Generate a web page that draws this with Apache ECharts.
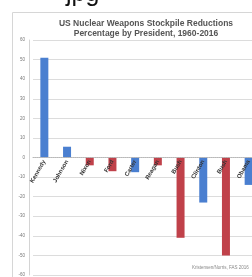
<!DOCTYPE html>
<html>
<head>
<meta charset="utf-8">
<script src="https://cdn.jsdelivr.net/npm/echarts@6/dist/echarts.min.js"></script>
<style>
  html, body { margin: 0; padding: 0; background: #fff; }
  #chart { width: 252px; height: 277px; }
</style>
</head>
<body>
<div id="chart"></div>
<script>
// presidents 1960-2016, percentage change of stockpile
const presidents = ["Kennedy", "Johnson", "Nixon", "Ford", "Carter", "Reagan", "Bush", "Clinton", "Bush", "Obama"];
const democrat = [51, 5.5, null, null, -7.5, null, null, -23, null, -14];
const republican = [null, null, -4, -7, null, -4, -41, null, -50, null];
const yTicks = { min: -60, max: 60, step: 10 };

const chart = echarts.init(document.getElementById("chart"));

const plotH = 235;

const option = {
  animation: false,
  backgroundColor: "#fff",
  title: {
    text: "US Nuclear Weapons Stockpile Reductions\nPercentage by President, 1960-2016",
    left: 141,
    top: 14,
    textAlign: "center",
    textStyle: { fontFamily: "Liberation Sans", fontSize: 8.5, fontWeight: "bold", color: "#555", lineHeight: 10 }
  },
  grid: { left: 33, top: 40, width: 227, height: plotH, outerBoundsMode: "none", containLabel: false },
  xAxis: {
    type: "category",
    data: presidents,
    z: 5,
    // axis sits on the zero line
    offset: -plotH / 2,
    axisLine: { onZero: false, lineStyle: { color: "#b8b8b8", type: "dotted", width: 1 } },
    axisTick: { show: false },
    axisLabel: { rotate: 60, fontSize: 6, fontWeight: "bold", color: "#333", margin: 3, interval: 0, fontFamily: "Liberation Sans" }
  },
  yAxis: {
    type: "value",
    min: yTicks.min,
    max: yTicks.max,
    interval: yTicks.step,
    offset: 4,
    axisLine: { show: true, lineStyle: { color: "#d4d4d4" } },
    axisTick: { show: false },
    axisLabel: { fontSize: 4.5, color: "#777", margin: 4, fontFamily: "Liberation Sans" },
    splitLine: { lineStyle: { color: "#dcdcdc", width: 1 } }
  },
  series: [
    { name: "Democrat", type: "bar", stack: "p", data: democrat, barWidth: 8, itemStyle: { color: "#4a7fd0" } },
    { name: "Republican", type: "bar", stack: "p", data: republican, barWidth: 8, itemStyle: { color: "#c0414a" } }
  ],
  graphic: [
    { type: "rect", shape: { x: 12.5, y: 12.5, width: 260, height: 280 }, style: { fill: null, stroke: "#d6d6d6", lineWidth: 1 }, silent: true },
    { type: "text", left: 66, top: -18, style: { text: "jpg", fontSize: 25, fontFamily: "Liberation Sans", fill: "#111" } },
    { type: "text", left: 192, top: 265, style: { text: "Kristensen/Norris, FAS 2016", fontSize: 4.5, fontFamily: "Liberation Sans", fill: "#888" } }
  ]
};

option && chart.setOption(option);
</script>
</body>
</html>
